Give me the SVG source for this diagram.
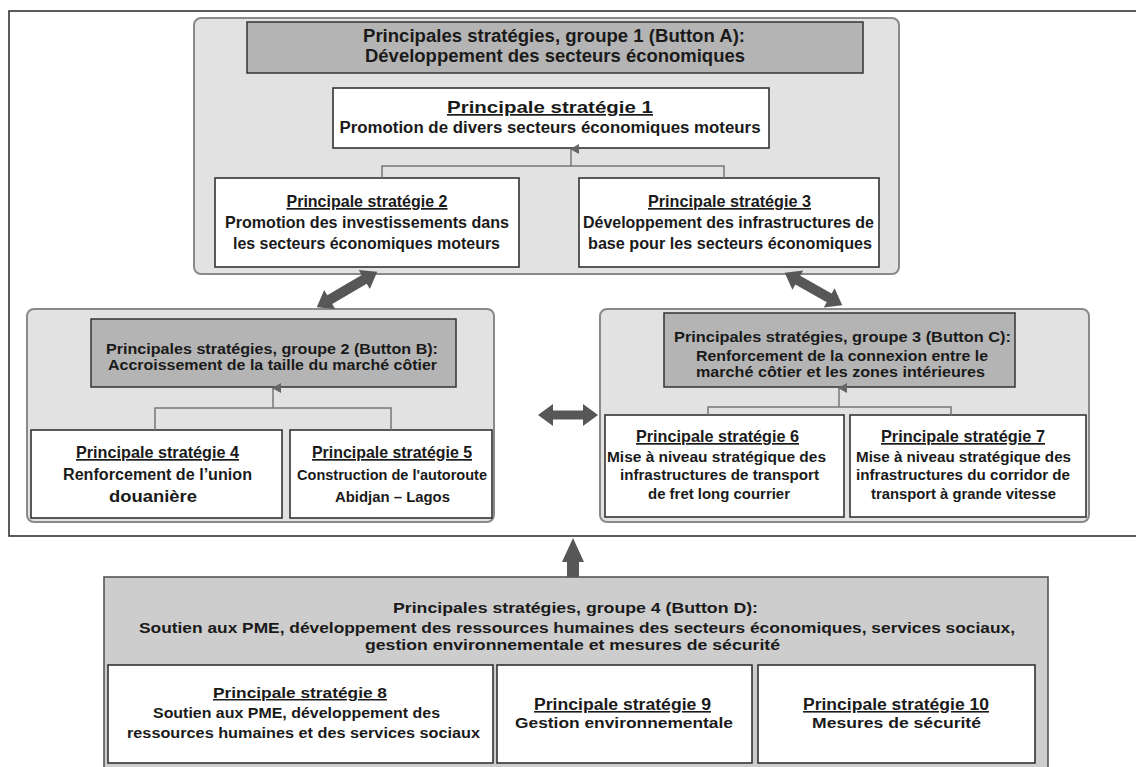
<svg xmlns="http://www.w3.org/2000/svg" width="1136" height="767" viewBox="0 0 1136 767">
<style>
text{font-family:"Liberation Sans",Arial,sans-serif;font-weight:bold;fill:#1a1a1a;text-anchor:middle}
.u{text-decoration:underline}
.cont{fill:#e2e2e2;stroke:#8a8a8a;stroke-width:2}
.hdr{fill:#b4b4b4;stroke:#333;stroke-width:1.5}
.box{fill:#fff;stroke:#333;stroke-width:1.6}
.conn{fill:none;stroke:#777;stroke-width:1.5}
.blk{fill:#575757}
</style>
<defs>
<marker id="ah" markerWidth="10" markerHeight="9" refX="5" refY="1" orient="auto-start-reverse" markerUnits="userSpaceOnUse" viewBox="0 0 10 9">
<path d="M5 0 L10 9 L0 9 Z" fill="#666"/>
</marker>
</defs>
<rect x="9" y="11" width="1140" height="525" fill="#fff" stroke="#333" stroke-width="1.6"/>

<g id="group1">
<rect class="cont" x="194" y="18" width="705" height="256" rx="7"/>
<rect class="hdr" x="247" y="22" width="616" height="51"/>
<text x="554" y="42" font-size="18" textLength="382" lengthAdjust="spacingAndGlyphs">Principales stratégies, groupe 1  (Button A):</text>
<text x="555" y="62" font-size="18" textLength="380" lengthAdjust="spacingAndGlyphs">Développement des secteurs économiques</text>
</g>
<g id="s1">
<rect class="box" x="333" y="88" width="436" height="60"/>
<text class="u" x="550" y="113" font-size="17" textLength="206" lengthAdjust="spacingAndGlyphs">Principale stratégie 1</text>
<text x="550" y="133" font-size="16" textLength="421" lengthAdjust="spacingAndGlyphs">Promotion  de divers  secteurs  économiques  moteurs</text>
</g>
<g id="s2">
<rect class="box" x="215" y="178" width="304" height="89"/>
<text class="u" x="367" y="207" font-size="17" textLength="161" lengthAdjust="spacingAndGlyphs">Principale stratégie 2</text>
<text x="367" y="228" font-size="17" textLength="284" lengthAdjust="spacingAndGlyphs">Promotion des investissements dans</text>
<text x="366.5" y="249" font-size="17" textLength="267" lengthAdjust="spacingAndGlyphs">les secteurs économiques moteurs</text>
</g>
<g id="s3">
<rect class="box" x="579" y="178" width="300" height="89"/>
<text class="u" x="729.5" y="207" font-size="17" textLength="163" lengthAdjust="spacingAndGlyphs">Principale stratégie 3</text>
<text x="728.5" y="228" font-size="17" textLength="291" lengthAdjust="spacingAndGlyphs">Développement des infrastructures de</text>
<text x="730" y="249" font-size="17" textLength="284" lengthAdjust="spacingAndGlyphs">base pour les secteurs économiques</text>
</g>

<g id="group2">
<rect class="cont" x="27" y="309" width="467" height="213" rx="7"/>
<rect class="hdr" x="91" y="319" width="365" height="68"/>
<text x="272" y="354" font-size="14.5" textLength="332" lengthAdjust="spacingAndGlyphs">Principales stratégies, groupe 2 (Button B):</text>
<text x="272.5" y="370" font-size="14.5" textLength="329" lengthAdjust="spacingAndGlyphs">Accroissement de la taille du marché côtier</text>
</g>
<g id="s4">
<rect class="box" x="31" y="430" width="251" height="88"/>
<text class="u" x="157.5" y="458" font-size="17" textLength="163" lengthAdjust="spacingAndGlyphs">Principale stratégie 4</text>
<text x="157.5" y="480" font-size="16" textLength="189" lengthAdjust="spacingAndGlyphs">Renforcement de l’union</text>
<text x="153" y="502" font-size="16" textLength="88" lengthAdjust="spacingAndGlyphs">douanière</text>
</g>
<g id="s5">
<rect class="box" x="290" y="430" width="202" height="88"/>
<text class="u" x="392" y="458" font-size="17" textLength="160" lengthAdjust="spacingAndGlyphs">Principale stratégie 5</text>
<text x="392" y="480" font-size="15" textLength="190" lengthAdjust="spacingAndGlyphs">Construction de l'autoroute</text>
<text x="392.5" y="502" font-size="15" textLength="115" lengthAdjust="spacingAndGlyphs">Abidjan – Lagos</text>
</g>

<g id="group3">
<rect class="cont" x="600" y="309" width="489" height="213" rx="7"/>
<rect class="hdr" x="664" y="313" width="351" height="74"/>
<text x="842.5" y="342" font-size="15" textLength="337" lengthAdjust="spacingAndGlyphs">Principales stratégies, groupe 3 (Button C):</text>
<text x="842" y="361" font-size="15" textLength="292" lengthAdjust="spacingAndGlyphs">Renforcement de la connexion entre le</text>
<text x="840.5" y="377" font-size="15" textLength="289" lengthAdjust="spacingAndGlyphs">marché côtier et les zones intérieures</text>
</g>
<g id="s6">
<rect class="box" x="605" y="415" width="239" height="102"/>
<text class="u" x="717.5" y="442" font-size="17" textLength="163" lengthAdjust="spacingAndGlyphs">Principale stratégie 6</text>
<text x="716.5" y="462" font-size="14" textLength="219" lengthAdjust="spacingAndGlyphs">Mise à niveau stratégique des</text>
<text x="719.5" y="480" font-size="14" textLength="199" lengthAdjust="spacingAndGlyphs">infrastructures de transport</text>
<text x="719" y="499" font-size="14" textLength="142" lengthAdjust="spacingAndGlyphs">de fret long courrier</text>
</g>
<g id="s7">
<rect class="box" x="850" y="415" width="236" height="102"/>
<text class="u" x="963" y="442" font-size="17" textLength="164" lengthAdjust="spacingAndGlyphs">Principale stratégie 7</text>
<text x="963.5" y="462" font-size="14" textLength="215" lengthAdjust="spacingAndGlyphs">Mise à niveau stratégique des</text>
<text x="963" y="480" font-size="14" textLength="214" lengthAdjust="spacingAndGlyphs">infrastructures du corridor de</text>
<text x="963.5" y="499" font-size="14" textLength="185" lengthAdjust="spacingAndGlyphs">transport à grande vitesse</text>
</g>

<g id="group4">
<rect x="104" y="577" width="944" height="200" fill="#cdcdcd" stroke="#555" stroke-width="1.6"/>
<text x="575.5" y="613" font-size="15" textLength="365" lengthAdjust="spacingAndGlyphs">Principales stratégies, groupe 4 (Button D):</text>
<text x="577" y="633" font-size="15" textLength="876" lengthAdjust="spacingAndGlyphs">Soutien aux PME, développement des ressources humaines des secteurs économiques, services sociaux,</text>
<text x="572.5" y="650" font-size="15" textLength="415" lengthAdjust="spacingAndGlyphs">gestion environnementale et mesures de sécurité</text>
</g>
<g id="s8">
<rect class="box" x="108" y="665" width="385" height="98"/>
<text class="u" x="300" y="698" font-size="15" textLength="174" lengthAdjust="spacingAndGlyphs">Principale stratégie 8</text>
<text x="296.5" y="718" font-size="14" textLength="287" lengthAdjust="spacingAndGlyphs">Soutien aux PME, développement  des</text>
<text x="303.5" y="738" font-size="14" textLength="353" lengthAdjust="spacingAndGlyphs">ressources  humaines  et des services  sociaux</text>
</g>
<g id="s9">
<rect class="box" x="497" y="665" width="255" height="98"/>
<text class="u" x="622.5" y="710" font-size="16" textLength="177" lengthAdjust="spacingAndGlyphs">Principale stratégie 9</text>
<text x="624" y="728" font-size="15" textLength="218" lengthAdjust="spacingAndGlyphs">Gestion environnementale</text>
</g>
<g id="s10">
<rect class="box" x="758" y="665" width="277" height="98"/>
<text class="u" x="896" y="710" font-size="16" textLength="186" lengthAdjust="spacingAndGlyphs">Principale stratégie 10</text>
<text x="896.5" y="728" font-size="15" textLength="169" lengthAdjust="spacingAndGlyphs">Mesures de sécurité</text>
</g>

<g id="connectors">
<path class="conn" d="M382 178 V166 H724 V178"/>
<path class="conn" d="M571 166 V149" marker-end="url(#ah)"/>
<path class="conn" d="M155 430 V408 H391 V430"/>
<path class="conn" d="M273 408 V388" marker-end="url(#ah)"/>
<path class="conn" d="M708 415 V407 H951 V415"/>
<path class="conn" d="M839 407 V388" marker-end="url(#ah)"/>
<polygon class="blk" transform="translate(347 289.5) rotate(-30.3)" points="-35,0 -20,-11 -20,-5 20,-5 20,-11 35,0 20,11 20,5 -20,5 -20,11"/>
<polygon class="blk" transform="translate(813.5 289) rotate(29.3)" points="-33,0 -18,-11 -18,-5 18,-5 18,-11 33,0 18,11 18,5 -18,5 -18,11"/>
<polygon class="blk" transform="translate(568 415)" points="-30,0 -15,-11 -15,-4.5 15,-4.5 15,-11 30,0 15,11 15,4.5 -15,4.5 -15,11"/>
<polygon class="blk" points="573,538 584,562 579,562 579,577 567,577 567,562 562,562"/>
</g>
</svg>
